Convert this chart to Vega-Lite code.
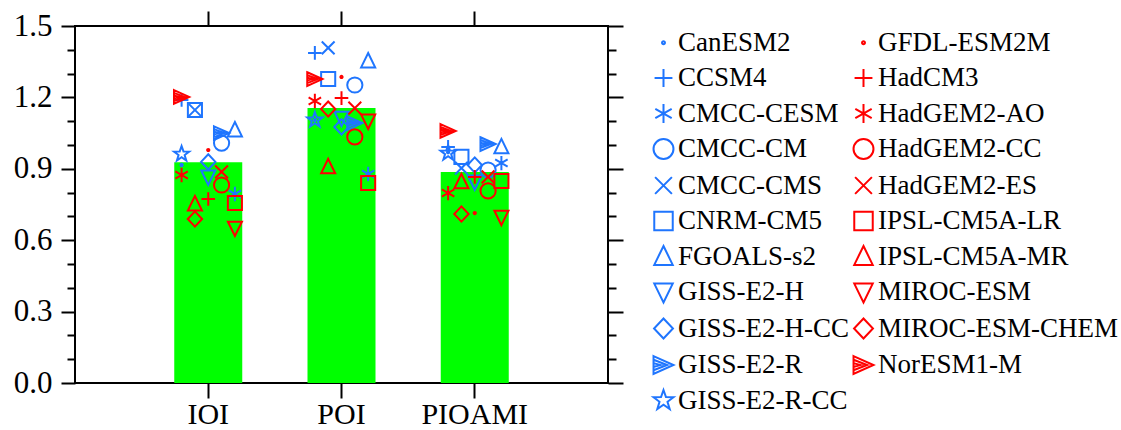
{
  "$schema": "https://vega.github.io/schema/vega-lite/v6.json",
  "width": 533,
  "height": 357,
  "autosize": {"type": "none"},
  "padding": {"left": 75, "top": 26, "right": 513, "bottom": 47},
  "background": "white",
  "config": {
    "view": {"stroke": "black", "strokeWidth": 2},
    "font": "Liberation Serif",
    "axis": {"domain": false, "grid": false, "tickColor": "black", "tickWidth": 2, "labelColor": "black", "labelFont": "Liberation Serif", "labelFontSize": 31, "title": null},
    "legend": {"labelFont": "Liberation Serif", "labelFontSize": 27, "labelColor": "black"}
  },
  "datasets": {
    "bars": [
      {"index": "IOI", "value": 0.928},
      {"index": "POI", "value": 1.155},
      {"index": "PIOAMI", "value": 0.887}
    ],
    "models": [
      {"index": "IOI", "model": "CanESM2", "offset": -0.2, "value": 0.916},
      {"index": "IOI", "model": "CCSM4", "offset": -0.2, "value": 1.189},
      {"index": "IOI", "model": "CMCC-CESM", "offset": 0.2, "value": 0.794},
      {"index": "IOI", "model": "CMCC-CM", "offset": 0.1, "value": 1.008},
      {"index": "IOI", "model": "CMCC-CMS", "offset": -0.1, "value": 1.147},
      {"index": "IOI", "model": "CNRM-CM5", "offset": -0.1, "value": 1.147},
      {"index": "IOI", "model": "FGOALS-s2", "offset": 0.2, "value": 1.063},
      {"index": "IOI", "model": "GFDL-ESM2M", "offset": 0.0, "value": 0.979},
      {"index": "IOI", "model": "GISS-E2-H", "offset": 0.0, "value": 0.866},
      {"index": "IOI", "model": "GISS-E2-H-CC", "offset": 0.0, "value": 0.929},
      {"index": "IOI", "model": "GISS-E2-R", "offset": 0.1, "value": 1.05},
      {"index": "IOI", "model": "GISS-E2-R-CC", "offset": -0.2, "value": 0.962},
      {"index": "IOI", "model": "HadCM3", "offset": 0.0, "value": 0.773},
      {"index": "IOI", "model": "HadGEM2-AO", "offset": -0.2, "value": 0.874},
      {"index": "IOI", "model": "HadGEM2-CC", "offset": 0.1, "value": 0.832},
      {"index": "IOI", "model": "HadGEM2-ES", "offset": 0.1, "value": 0.887},
      {"index": "IOI", "model": "IPSL-CM5A-LR", "offset": 0.2, "value": 0.756},
      {"index": "IOI", "model": "IPSL-CM5A-MR", "offset": -0.1, "value": 0.752},
      {"index": "IOI", "model": "MIROC-ESM", "offset": 0.2, "value": 0.651},
      {"index": "IOI", "model": "MIROC-ESM-CHEM", "offset": -0.1, "value": 0.689},
      {"index": "IOI", "model": "NorESM1-M", "offset": -0.2, "value": 1.202},
      {"index": "POI", "model": "CanESM2", "offset": -0.2, "value": 1.105},
      {"index": "POI", "model": "CCSM4", "offset": -0.2, "value": 1.387},
      {"index": "POI", "model": "CMCC-CESM", "offset": 0.2, "value": 0.878},
      {"index": "POI", "model": "CMCC-CM", "offset": 0.1, "value": 1.252},
      {"index": "POI", "model": "CMCC-CMS", "offset": -0.1, "value": 1.408},
      {"index": "POI", "model": "CNRM-CM5", "offset": -0.1, "value": 1.277},
      {"index": "POI", "model": "FGOALS-s2", "offset": 0.2, "value": 1.353},
      {"index": "POI", "model": "GFDL-ESM2M", "offset": 0.0, "value": 1.286},
      {"index": "POI", "model": "GISS-E2-H", "offset": 0.0, "value": 1.113},
      {"index": "POI", "model": "GISS-E2-H-CC", "offset": 0.0, "value": 1.076},
      {"index": "POI", "model": "GISS-E2-R", "offset": 0.1, "value": 1.092},
      {"index": "POI", "model": "GISS-E2-R-CC", "offset": -0.2, "value": 1.105},
      {"index": "POI", "model": "HadCM3", "offset": 0.0, "value": 1.197},
      {"index": "POI", "model": "HadGEM2-AO", "offset": -0.2, "value": 1.185},
      {"index": "POI", "model": "HadGEM2-CC", "offset": 0.1, "value": 1.034},
      {"index": "POI", "model": "HadGEM2-ES", "offset": 0.1, "value": 1.155},
      {"index": "POI", "model": "IPSL-CM5A-LR", "offset": 0.2, "value": 0.84},
      {"index": "POI", "model": "IPSL-CM5A-MR", "offset": -0.1, "value": 0.908},
      {"index": "POI", "model": "MIROC-ESM", "offset": 0.2, "value": 1.101},
      {"index": "POI", "model": "MIROC-ESM-CHEM", "offset": -0.1, "value": 1.151},
      {"index": "POI", "model": "NorESM1-M", "offset": -0.2, "value": 1.277},
      {"index": "PIOAMI", "model": "CanESM2", "offset": -0.2, "value": 0.97},
      {"index": "PIOAMI", "model": "CCSM4", "offset": -0.2, "value": 0.992},
      {"index": "PIOAMI", "model": "CMCC-CESM", "offset": 0.2, "value": 0.924},
      {"index": "PIOAMI", "model": "CMCC-CM", "offset": 0.1, "value": 0.895},
      {"index": "PIOAMI", "model": "CMCC-CMS", "offset": -0.1, "value": 0.903},
      {"index": "PIOAMI", "model": "CNRM-CM5", "offset": -0.1, "value": 0.95},
      {"index": "PIOAMI", "model": "FGOALS-s2", "offset": 0.2, "value": 0.992},
      {"index": "PIOAMI", "model": "GFDL-ESM2M", "offset": 0.0, "value": 0.714},
      {"index": "PIOAMI", "model": "GISS-E2-H", "offset": 0.0, "value": 0.845},
      {"index": "PIOAMI", "model": "GISS-E2-H-CC", "offset": 0.0, "value": 0.916},
      {"index": "PIOAMI", "model": "GISS-E2-R", "offset": 0.1, "value": 1.004},
      {"index": "PIOAMI", "model": "GISS-E2-R-CC", "offset": -0.2, "value": 0.966},
      {"index": "PIOAMI", "model": "HadCM3", "offset": 0.0, "value": 0.866},
      {"index": "PIOAMI", "model": "HadGEM2-AO", "offset": -0.2, "value": 0.798},
      {"index": "PIOAMI", "model": "HadGEM2-CC", "offset": 0.1, "value": 0.807},
      {"index": "PIOAMI", "model": "HadGEM2-ES", "offset": 0.1, "value": 0.866},
      {"index": "PIOAMI", "model": "IPSL-CM5A-LR", "offset": 0.2, "value": 0.849},
      {"index": "PIOAMI", "model": "IPSL-CM5A-MR", "offset": -0.1, "value": 0.845},
      {"index": "PIOAMI", "model": "MIROC-ESM", "offset": 0.2, "value": 0.697},
      {"index": "PIOAMI", "model": "MIROC-ESM-CHEM", "offset": -0.1, "value": 0.71},
      {"index": "PIOAMI", "model": "NorESM1-M", "offset": -0.2, "value": 1.059}
    ]
  },
  "resolve": {"axis": {"x": "independent", "y": "independent"}},
  "layer": [
    {
      "data": {"name": "bars"},
      "mark": {"type": "bar", "color": "#00FF00", "width": 68},
      "encoding": {
        "x": {"field": "index", "type": "nominal", "sort": ["IOI", "POI", "PIOAMI"],
          "scale": {"type": "band", "domain": ["IOI", "POI", "PIOAMI"], "paddingInner": 0, "paddingOuter": 0.5},
          "axis": {"orient": "bottom", "tickSize": 15, "labelPadding": 1, "labelFontSize": 30, "labelAngle": 0}},
        "y": {"field": "value", "type": "quantitative",
          "scale": {"domain": [0, 1.5], "nice": false, "zero": true},
          "axis": {"orient": "left", "values": [0, 0.3, 0.6, 0.9, 1.2, 1.5], "format": ".1f", "tickSize": 14, "labelPadding": 9}}
      }
    },
    {
      "data": {"name": "bars"},
      "mark": {"type": "point", "opacity": 0},
      "encoding": {
        "x": {"field": "index", "type": "nominal", "sort": ["IOI", "POI", "PIOAMI"], "axis": null},
        "y": {"field": "value", "type": "quantitative",
          "axis": {"orient": "left", "values": [0.1, 0.2, 0.4, 0.5, 0.7, 0.8, 1.0, 1.1, 1.3, 1.4], "labels": false, "tickSize": 8}}
      }
    },
    {
      "data": {"name": "bars"},
      "mark": {"type": "point", "opacity": 0},
      "encoding": {
        "x": {"field": "index", "type": "nominal", "sort": ["IOI", "POI", "PIOAMI"], "axis": null},
        "y": {"field": "value", "type": "quantitative",
          "axis": {"orient": "right", "values": [0.1, 0.2, 0.4, 0.5, 0.7, 0.8, 1.0, 1.1, 1.3, 1.4], "labels": false, "tickSize": 8}}
      }
    },
    {
      "data": {"name": "models"},
      "mark": {"type": "point", "filled": false, "strokeWidth": 2, "size": 256, "opacity": 1},
      "encoding": {
        "x": {"field": "index", "type": "nominal", "sort": ["IOI", "POI", "PIOAMI"],
          "axis": {"orient": "top", "labels": false, "tickSize": 15}},
        "xOffset": {"field": "offset", "type": "quantitative", "scale": {"domain": [-0.5, 0.5]}},
        "y": {"field": "value", "type": "quantitative",
          "axis": {"orient": "right", "values": [0, 0.3, 0.6, 0.9, 1.2, 1.5], "labels": false, "tickSize": 15}},
        "color": {"field": "model", "type": "nominal",
          "scale": {
            "domain": ["CanESM2", "CCSM4", "CMCC-CESM", "CMCC-CM", "CMCC-CMS", "CNRM-CM5", "FGOALS-s2", "GISS-E2-H", "GISS-E2-H-CC", "GISS-E2-R", "GISS-E2-R-CC", "GFDL-ESM2M", "HadCM3", "HadGEM2-AO", "HadGEM2-CC", "HadGEM2-ES", "IPSL-CM5A-LR", "IPSL-CM5A-MR", "MIROC-ESM", "MIROC-ESM-CHEM", "NorESM1-M"],
            "range": ["#1F75FE", "#1F75FE", "#1F75FE", "#1F75FE", "#1F75FE", "#1F75FE", "#1F75FE", "#1F75FE", "#1F75FE", "#1F75FE", "#1F75FE", "#FF0000", "#FF0000", "#FF0000", "#FF0000", "#FF0000", "#FF0000", "#FF0000", "#FF0000", "#FF0000", "#FF0000"]
          },
          "legend": {"orient": "right", "title": null, "columns": 2, "labelFont": "Liberation Serif", "labelFontSize": 27, "labelColor": "black", "symbolSize": 441, "symbolStrokeWidth": 2, "rowPadding": 7.5, "columnPadding": -3, "labelOffset": 1, "offset": 23, "labelLimit": 400, "padding": 3}
        },
        "shape": {"field": "model", "type": "nominal",
          "scale": {
            "domain": ["CanESM2", "CCSM4", "CMCC-CESM", "CMCC-CM", "CMCC-CMS", "CNRM-CM5", "FGOALS-s2", "GISS-E2-H", "GISS-E2-H-CC", "GISS-E2-R", "GISS-E2-R-CC", "GFDL-ESM2M", "HadCM3", "HadGEM2-AO", "HadGEM2-CC", "HadGEM2-ES", "IPSL-CM5A-LR", "IPSL-CM5A-MR", "MIROC-ESM", "MIROC-ESM-CHEM", "NorESM1-M"],
            "range": [
              "M0,-0.14A0.14,0.14 0 1,1 0,0.14A0.14,0.14 0 1,1 0,-0.14Z",
              "M-0.85,0L0.85,0M0,-0.85L0,0.85",
              "M0,-0.9L0,0.9M-0.78,-0.45L0.78,0.45M-0.78,0.45L0.78,-0.45",
              "M0.95,0A0.95,0.95 0 1,1 -0.95,0A0.95,0.95 0 1,1 0.95,0Z",
              "M-0.8,-0.8L0.8,0.8M-0.8,0.8L0.8,-0.8",
              "M-0.88,-0.88H0.88V0.88H-0.88Z",
              "M0,-1L0.88,0.8H-0.88Z",
              "M0,1L0.88,-0.8H-0.88Z",
              "M0,-0.95L0.9,0L0,0.95L-0.9,0Z",
              "M-0.95,-0.85L0.95,0L-0.95,0.85ZM-0.95,-0.5L0.35,0L-0.95,0.5ZM-0.95,-0.18L-0.3,0L-0.95,0.18Z",
              "M0,-1L0.235,-0.324L0.951,-0.309L0.38,0.124L0.588,0.809L0,0.4L-0.588,0.809L-0.38,0.124L-0.951,-0.309L-0.235,-0.324Z",
              "M0,-0.14A0.14,0.14 0 1,1 0,0.14A0.14,0.14 0 1,1 0,-0.14Z",
              "M-0.85,0L0.85,0M0,-0.85L0,0.85",
              "M0,-0.9L0,0.9M-0.78,-0.45L0.78,0.45M-0.78,0.45L0.78,-0.45",
              "M0.95,0A0.95,0.95 0 1,1 -0.95,0A0.95,0.95 0 1,1 0.95,0Z",
              "M-0.8,-0.8L0.8,0.8M-0.8,0.8L0.8,-0.8",
              "M-0.88,-0.88H0.88V0.88H-0.88Z",
              "M0,-1L0.88,0.8H-0.88Z",
              "M0,1L0.88,-0.8H-0.88Z",
              "M0,-0.95L0.9,0L0,0.95L-0.9,0Z",
              "M-0.95,-0.85L0.95,0L-0.95,0.85ZM-0.95,-0.5L0.35,0L-0.95,0.5ZM-0.95,-0.18L-0.3,0L-0.95,0.18Z"
            ]
          }
        }
      }
    }
  ]
}
